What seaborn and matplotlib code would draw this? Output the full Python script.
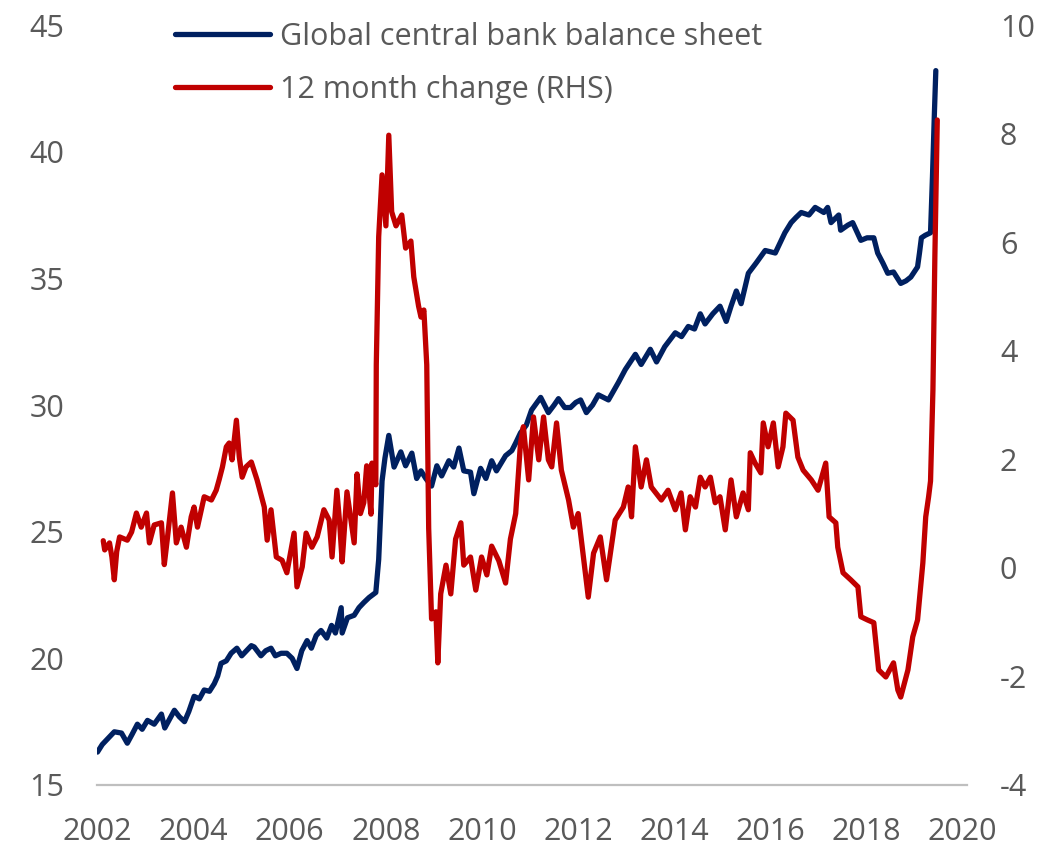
import numpy as np
import pandas as pd
import matplotlib
matplotlib.use('Agg')
import matplotlib.pyplot as plt
import seaborn as sns

# global central bank balance sheet (LHS)
bs_year = [2002.00, 2002.10, 2002.20, 2002.35, 2002.50, 2002.62, 2002.72, 2002.83, 2002.93, 2003.04,
           2003.18, 2003.33, 2003.40, 2003.50, 2003.60, 2003.70, 2003.81, 2003.90, 2004.01, 2004.12,
           2004.22, 2004.33, 2004.43, 2004.50, 2004.57, 2004.68, 2004.78, 2004.90, 2005.00, 2005.10,
           2005.20, 2005.26, 2005.40, 2005.50, 2005.61, 2005.70, 2005.82, 2005.94, 2006.05, 2006.15,
           2006.25, 2006.36, 2006.45, 2006.55, 2006.65, 2006.77, 2006.87, 2006.95, 2007.07, 2007.09,
           2007.20, 2007.34, 2007.44, 2007.54, 2007.65, 2007.79, 2007.85, 2007.92, 2007.98, 2008.06,
           2008.17, 2008.31, 2008.41, 2008.54, 2008.64, 2008.73, 2008.83, 2008.95, 2009.06, 2009.16,
           2009.31, 2009.41, 2009.52, 2009.62, 2009.76, 2009.83, 2009.97, 2010.08, 2010.20, 2010.30,
           2010.49, 2010.62, 2010.70, 2010.80, 2010.92, 2011.03, 2011.22, 2011.38, 2011.50, 2011.59,
           2011.72, 2011.84, 2011.95, 2012.05, 2012.17, 2012.30, 2012.42, 2012.63, 2012.84, 2012.98,
           2013.19, 2013.31, 2013.50, 2013.63, 2013.80, 2014.02, 2014.15, 2014.29, 2014.42, 2014.54,
           2014.64, 2014.80, 2014.95, 2015.08, 2015.18, 2015.29, 2015.39, 2015.54, 2015.70, 2015.89,
           2016.10, 2016.30, 2016.43, 2016.53, 2016.64, 2016.80, 2016.93, 2017.11, 2017.19, 2017.26,
           2017.42, 2017.46, 2017.61, 2017.71, 2017.88, 2018.01, 2018.15, 2018.23, 2018.34, 2018.44,
           2018.56, 2018.71, 2018.82, 2018.92, 2019.06, 2019.10, 2019.14, 2019.22, 2019.33, 2019.37,
           2019.41, 2019.44]
bs_value = [16.3, 16.6, 16.8, 17.1, 17.05, 16.65, 17.0, 17.4, 17.2, 17.55,
            17.4, 17.8, 17.25, 17.6, 17.95, 17.7, 17.5, 17.9, 18.5, 18.4,
            18.75, 18.7, 19.0, 19.3, 19.8, 19.9, 20.2, 20.4, 20.1, 20.3,
            20.5, 20.45, 20.1, 20.3, 20.4, 20.1, 20.2, 20.2, 20.0, 19.6,
            20.3, 20.7, 20.4, 20.9, 21.1, 20.8, 21.3, 21.0, 22.0, 21.0,
            21.6, 21.7, 22.0, 22.2, 22.4, 22.6, 23.9, 27.0, 27.9, 28.8,
            27.55, 28.15, 27.6, 28.1, 27.1, 27.4, 27.1, 26.8, 27.6, 27.2,
            27.8, 27.55, 28.3, 27.4, 27.35, 26.5, 27.5, 27.1, 27.8, 27.4,
            28.0, 28.2, 28.5, 28.9, 29.2, 29.8, 30.3, 29.7, 30.0, 30.25,
            29.9, 29.9, 30.1, 30.2, 29.7, 30.0, 30.4, 30.2, 30.9, 31.4,
            32.0, 31.6, 32.2, 31.7, 32.3, 32.85, 32.7, 33.1, 33.0, 33.6,
            33.2, 33.6, 33.9, 33.3, 33.9, 34.5, 34.0, 35.2, 35.6, 36.1,
            36.0, 36.8, 37.2, 37.4, 37.6, 37.5, 37.8, 37.6, 37.8, 37.2,
            37.5, 36.9, 37.1, 37.2, 36.5, 36.6, 36.6, 36.0, 35.6, 35.2,
            35.25, 34.8, 34.9, 35.05, 35.45, 36.0, 36.6, 36.7, 36.8, 39.0,
            41.5, 43.2]

# 12 month change (RHS)
chg_year = [2002.12, 2002.15, 2002.25, 2002.30, 2002.35, 2002.40, 2002.46, 2002.62, 2002.71, 2002.81,
            2002.91, 2003.02, 2003.08, 2003.18, 2003.33, 2003.39, 2003.45, 2003.56, 2003.64, 2003.74,
            2003.85, 2003.95, 2004.01, 2004.08, 2004.22, 2004.37, 2004.47, 2004.53, 2004.60, 2004.68,
            2004.74, 2004.80, 2004.89, 2004.95, 2005.01, 2005.09, 2005.20, 2005.32, 2005.47, 2005.53,
            2005.61, 2005.72, 2005.84, 2005.94, 2006.09, 2006.15, 2006.26, 2006.34, 2006.46, 2006.57,
            2006.71, 2006.82, 2006.88, 2006.98, 2007.04, 2007.09, 2007.19, 2007.27, 2007.34, 2007.40,
            2007.47, 2007.54, 2007.60, 2007.69, 2007.71, 2007.79, 2007.80, 2007.85, 2007.92, 2008.00,
            2008.06, 2008.12, 2008.21, 2008.33, 2008.41, 2008.52, 2008.58, 2008.68, 2008.73, 2008.79,
            2008.85, 2008.89, 2008.95, 2009.04, 2009.08, 2009.14, 2009.25, 2009.35, 2009.45, 2009.56,
            2009.62, 2009.76, 2009.87, 2009.99, 2010.10, 2010.20, 2010.35, 2010.49, 2010.59, 2010.70,
            2010.80, 2010.86, 2010.97, 2011.07, 2011.18, 2011.28, 2011.38, 2011.45, 2011.55, 2011.65,
            2011.80, 2011.90, 2012.00, 2012.11, 2012.21, 2012.32, 2012.46, 2012.59, 2012.77, 2012.94,
            2013.04, 2013.11, 2013.19, 2013.31, 2013.42, 2013.52, 2013.73, 2013.87, 2014.02, 2014.14,
            2014.23, 2014.33, 2014.44, 2014.54, 2014.64, 2014.75, 2014.85, 2014.95, 2015.06, 2015.18,
            2015.29, 2015.43, 2015.54, 2015.58, 2015.68, 2015.80, 2015.85, 2015.95, 2016.06, 2016.16,
            2016.26, 2016.32, 2016.47, 2016.57, 2016.68, 2016.85, 2016.99, 2017.15, 2017.22, 2017.36,
            2017.40, 2017.51, 2017.67, 2017.82, 2017.88, 2018.02, 2018.15, 2018.25, 2018.40, 2018.56,
            2018.65, 2018.71, 2018.86, 2018.96, 2019.06, 2019.17, 2019.23, 2019.29, 2019.33, 2019.38,
            2019.42, 2019.47]
chg_value = [0.5, 0.33, 0.46, 0.2, -0.22, 0.3, 0.57, 0.51, 0.66, 1.01,
             0.75, 1.01, 0.46, 0.79, 0.83, 0.06, 0.51, 1.38, 0.46, 0.75,
             0.38, 0.94, 1.12, 0.75, 1.31, 1.25, 1.43, 1.62, 1.86, 2.23,
             2.3, 1.99, 2.72, 2.04, 1.67, 1.86, 1.95, 1.62, 1.12, 0.51,
             1.07, 0.2, 0.14, -0.09, 0.64, -0.35, 0.02, 0.64, 0.38, 0.57,
             1.07, 0.88, 0.2, 1.43, 0.8, 0.11, 1.4, 0.9, 0.46, 1.73,
             1.0, 1.2, 1.88, 0.99, 1.93, 1.53, 3.74, 6.1, 7.24, 6.3,
             7.97, 6.56, 6.3, 6.5, 5.89, 6.02, 5.36, 4.82, 4.62, 4.75,
             3.74, 0.73, -0.94, -0.81, -1.75, -0.48, 0.05, -0.48, 0.53, 0.83,
             0.05, 0.2, -0.41, 0.2, -0.13, 0.4, 0.13, -0.28, 0.53, 1.0,
             2.3, 2.6, 1.62, 2.78, 1.99, 2.78, 1.99, 1.86, 2.67, 1.8,
             1.25, 0.75, 1.0, 0.2, -0.54, 0.27, 0.57, -0.22, 0.88, 1.12,
             1.49, 0.94, 2.23, 1.49, 1.99, 1.49, 1.25, 1.43, 1.07, 1.38,
             0.7, 1.31, 1.12, 1.67, 1.49, 1.67, 1.2, 1.31, 0.7, 1.62,
             0.94, 1.38, 1.07, 2.12, 1.93, 1.75, 2.67, 2.23, 2.67, 1.86,
             2.23, 2.85, 2.72, 2.04, 1.8, 1.62, 1.43, 1.93, 0.94, 0.83,
             0.38, -0.09, -0.22, -0.35, -0.9, -0.96, -1.01, -1.88, -2.01, -1.75,
             -2.25, -2.38, -1.88, -1.27, -0.96, 0.09, 0.94, 1.31, 1.6, 3.28,
             5.73, 8.25]

labels = ['Global central bank balance sheet', '12 month change (RHS)']
navy = '#002060'
red = '#C00000'
grey = '#595959'

sns.set_theme(style='white')
plt.rcParams['font.family'] = ['Open Sans', 'DejaVu Sans']
plt.rcParams['axes.unicode_minus'] = False

fig = plt.figure(figsize=(10.63, 8.48), dpi=100)
ax = fig.add_axes([0.0917, 0.0743, 0.8176, 0.8962])
ax2 = ax.twinx()

sns.lineplot(x=bs_year, y=bs_value, ax=ax, color=navy, lw=3.8, sort=False, estimator=None)
sns.lineplot(x=chg_year, y=chg_value, ax=ax2, color=red, lw=3.8, sort=False, estimator=None)

ax.set_xlim(2002, 2020.08)
ax.set_ylim(15, 45)
ax2.set_ylim(-4, 10)
ax.set_xticks(range(2002, 2021, 2))
ax.set_yticks(range(15, 46, 5))
ax2.set_yticks(range(-4, 11, 2))

for a in (ax, ax2):
    for s in a.spines.values():
        s.set_visible(False)
    a.tick_params(length=0, labelsize=22, labelcolor=grey)
    a.set_xlabel('')
    a.set_ylabel('')
ax.spines['bottom'].set_visible(True)
ax.spines['bottom'].set_color('#BFBFBF')
ax.spines['bottom'].set_linewidth(1.6)
ax.tick_params(axis='y', pad=24)
ax2.tick_params(axis='y', pad=24)
ax.tick_params(axis='x', pad=23)

handles = [plt.Line2D([], [], color=navy, lw=3.8, solid_capstyle='round'),
           plt.Line2D([], [], color=red, lw=3.8, solid_capstyle='round')]
fig.legend(handles, labels, loc='upper left', bbox_to_anchor=(175 / 1063, 1 - 22 / 848),
           frameon=False, fontsize=22, labelcolor=grey, handlelength=3.1,
           handletextpad=0.35, labelspacing=0.75, borderpad=0, borderaxespad=0)

fig.savefig('out.png', dpi=100)
